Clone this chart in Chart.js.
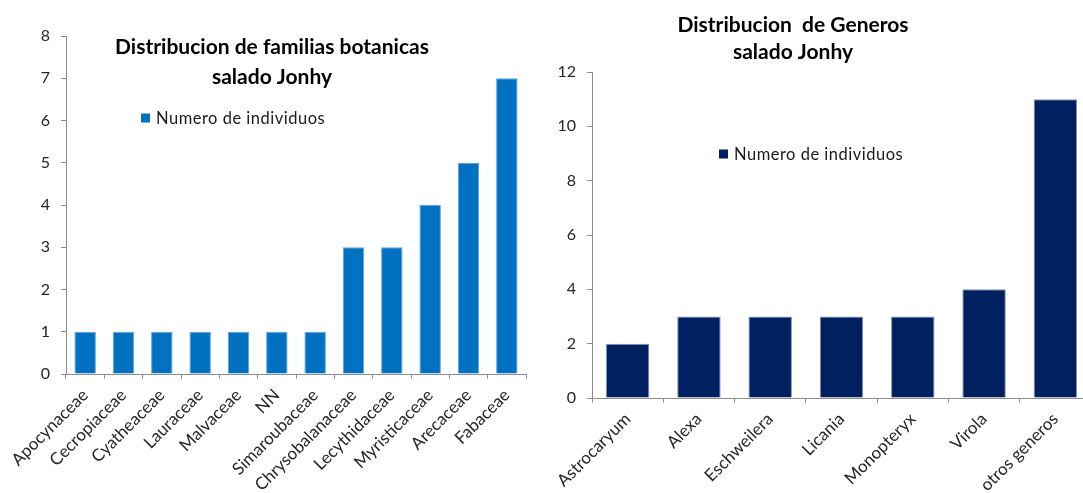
<!DOCTYPE html>
<html>
<head>
<meta charset="utf-8">
<script src="https://cdn.jsdelivr.net/npm/chart.js@4/dist/chart.umd.min.js"></script>
<style>
  html, body { margin: 0; padding: 0; background: #fff; }
  body { width: 1083px; height: 493px; overflow: hidden; position: relative; }
  #wrapFam { position: absolute; left: 0; top: 0; width: 540px; height: 493px; }
  #wrapGen { position: absolute; left: 540px; top: 0; width: 560px; height: 493px; }
</style>
</head>
<body>
<div id="wrapFam"><canvas id="famChart" width="540" height="493"></canvas></div>
<div id="wrapGen"><canvas id="genChart" width="560" height="493"></canvas></div>
<script>
// Familias botanicas
const familias = ['Apocynaceae', 'Cecropiaceae', 'Cyatheaceae', 'Lauraceae', 'Malvaceae', 'NN',
  'Simaroubaceae', 'Chrysobalanaceae', 'Lecythidaceae', 'Myristicaceae', 'Arecaceae', 'Fabaceae'];
const individuosFamilia = [1, 1, 1, 1, 1, 1, 1, 3, 3, 4, 5, 7];
const ejeFamilias = [0, 1, 2, 3, 4, 5, 6, 7, 8];

// Generos
const generos = ['Astrocaryum', 'Alexa', 'Eschweilera', 'Licania', 'Monopteryx', 'Virola', 'otros generos'];
const individuosGenero = [2, 3, 3, 3, 3, 4, 11];
const ejeGeneros = [0, 2, 4, 6, 8, 10, 12];

const serieNombre = 'Numero de individuos';
const tituloFam = ['Distribucion de familias botanicas', 'salado Jonhy'];
const tituloGen = ['Distribucion  de Generos', 'salado Jonhy'];

Chart.defaults.font.family = 'Lato, "Open Sans", sans-serif';
Chart.defaults.animation = false;

// Titles and legend drawn inside the canvas
const overlay = {
  id: 'overlay',
  afterDraw(chart, args, opts) {
    const ctx = chart.ctx;
    ctx.save();
    ctx.fillStyle = '#000';
    ctx.textAlign = 'center';
    ctx.textBaseline = 'middle';
    ctx.font = 'bold 21px Lato, sans-serif';
    opts.title.forEach((line, i) => {
      ctx.fillText(line, opts.titleX, opts.titleY + i * opts.titleGap);
    });
    // legend
    ctx.fillStyle = opts.color;
    ctx.fillRect(opts.legX, opts.legY - 4.5, 9, 9);
    ctx.fillStyle = '#1a1a1a';
    ctx.textAlign = 'left';
    ctx.font = '16.5px Lato, sans-serif';
    ctx.letterSpacing = '0.5px';
    ctx.fillText(serieNombre, opts.legX + 15, opts.legY + 0.5);
    ctx.restore();
  }
};

function axisOpts(extra) {
  return Object.assign({
    border: { display: true, color: '#8c8c8c', width: 1 },
    grid: { display: true, drawOnChartArea: false, drawTicks: true, tickLength: 5, color: '#8c8c8c' },
  }, extra);
}

function buildChart(id, labels, values, eje, color, edge, barPct, geo, ov) {
  return new Chart(document.getElementById(id), {
    type: 'bar',
    data: {
      labels: labels,
      datasets: [{
        label: serieNombre,
        data: values,
        backgroundColor: color,
        borderColor: edge,
        borderWidth: { top: 1, left: 1, right: 1, bottom: 0 },
        borderSkipped: 'bottom',
        categoryPercentage: 1,
        barPercentage: barPct
      }]
    },
    options: {
      responsive: false,
      maintainAspectRatio: false,
      layout: { padding: { left: 0, right: geo.padRight, top: geo.top, bottom: 0 } },
      plugins: {
        legend: { display: false },
        tooltip: { enabled: false },
        overlay: ov
      },
      scales: {
        x: axisOpts({
          ticks: { color: '#262626', font: { size: 17 }, minRotation: 45, maxRotation: 45, padding: 6, autoSkip: false },
          afterFit: s => { s.height = geo.xHeight; }
        }),
        y: axisOpts({
          min: eje[0],
          max: eje[eje.length - 1],
          ticks: { color: '#262626', font: { size: 16 }, stepSize: eje[1] - eje[0], padding: 11 },
          afterFit: s => { s.width = geo.yWidth; }
        })
      }
    },
    plugins: [overlay]
  });
}

buildChart('famChart', familias, individuosFamilia, ejeFamilias, '#0070C0', '#5fa3d9', 0.56,
  { padRight: 14, top: 36, xHeight: 493 - 374, yWidth: 66 },
  { title: tituloFam, titleX: 272, titleY: 47, titleGap: 30, color: '#0070C0', legX: 141, legY: 118 });

buildChart('genChart', generos, individuosGenero, ejeGeneros, '#002060', '#8a96b4', 0.61,
  { padRight: 9, top: 72, xHeight: 493 - 398, yWidth: 52 },
  { title: tituloGen, titleX: 253, titleY: 25, titleGap: 27, color: '#002060', legX: 179, legY: 154 });
</script>
</body>
</html>
